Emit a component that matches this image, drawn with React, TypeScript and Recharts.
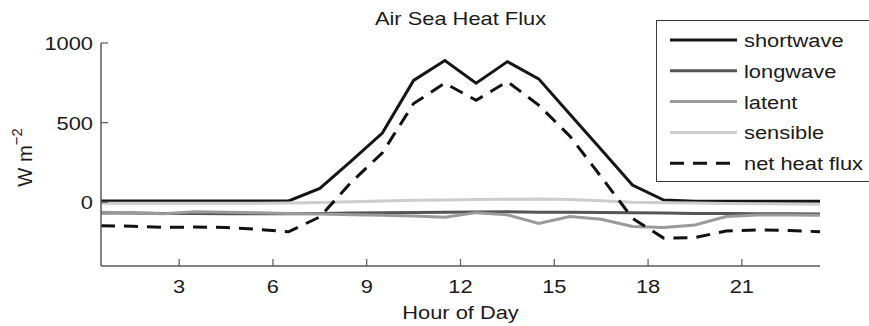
import { Label, Legend, Line, LineChart, XAxis, YAxis } from "recharts";

const hours = [
  0.5, 1.5, 2.5, 3.5, 4.5, 5.5, 6.5, 7.5, 8.5, 9.5, 10.5, 11.5, 12.5, 13.5, 14.5, 15.5, 16.5, 17.5,
  18.5, 19.5, 20.5, 21.5, 22.5, 23.5,
];
const shortwave = [8, 8, 8, 8, 8, 8, 8, 87, 258, 435, 765, 890, 748, 883, 775, 553, 331, 108, 14, 6, 6, 6, 6, 6];
const longwave = [-68, -68, -70, -70, -72, -72, -72, -70, -68, -66, -64, -62, -61, -60, -62, -63, -64, -66, -68, -70, -71, -72, -72, -73];
const latent = [-62, -66, -72, -60, -62, -66, -70, -74, -78, -82, -86, -94, -65, -79, -133, -89, -106, -152, -158, -142, -89, -80, -80, -82];
const sensible = [-6, -6, -6, -6, -6, -6, -5, -2, 3, 8, 12, 15, 18, 19, 21, 18, 10, 0, -3, -5, -7, -9, -10, -12];
const netFlux = [-148, -150, -158, -155, -158, -170, -185, -92, 125, 310, 620, 748, 640, 758, 610, 415, 160, -100, -225, -222, -180, -174, -177, -185];

const xTicks = [3, 6, 9, 12, 15, 18, 21];
const yTicks = [0, 500, 1000];

const series = [
  { key: "shortwave", name: "shortwave", color: "#151515", dash: undefined },
  { key: "longwave", name: "longwave", color: "#555555", dash: undefined },
  { key: "latent", name: "latent", color: "#9a9a9a", dash: undefined },
  { key: "sensible", name: "sensible", color: "#cdcdcd", dash: undefined },
  { key: "net", name: "net heat flux", color: "#111111", dash: "14 9" },
];

const data = hours.map((hour, i) => ({
  hour,
  shortwave: shortwave[i],
  longwave: longwave[i],
  latent: latent[i],
  sensible: sensible[i],
  net: netFlux[i],
}));

const FONT = "'Liberation Sans', Arial, Helvetica, sans-serif";
const AXIS = "#5a5a5a";
const TEXT = "#1a1a1a";
const TICK_LEN = 7;
const STRETCH = 1.15; // the reference type is a bit wider than Liberation Sans

function Txt({ x, y, anchor = "start", size = 19, children }: any) {
  return (
    <text
      transform={`translate(${x},${y}) scale(${STRETCH},1)`}
      textAnchor={anchor}
      fill={TEXT}
      fontSize={size}
      fontFamily={FONT}
    >
      {children}
    </text>
  );
}

function BottomTick({ x, y, payload }: any) {
  return (
    <g>
      <line x1={x} x2={x} y1={y} y2={y - TICK_LEN} stroke={AXIS} strokeWidth={1.2} />
      <Txt x={x} y={y + 27} anchor="middle">
        {payload.value}
      </Txt>
    </g>
  );
}

function TopTick({ x, y }: any) {
  return <line x1={x} x2={x} y1={y} y2={y + TICK_LEN} stroke={AXIS} strokeWidth={1.2} />;
}

function LeftTick({ x, y, payload }: any) {
  return (
    <g>
      <line x1={x} x2={x + TICK_LEN} y1={y} y2={y} stroke={AXIS} strokeWidth={1.2} />
      <Txt x={x - 8} y={y + 7} anchor="end">
        {payload.value}
      </Txt>
    </g>
  );
}

function RightTick({ x, y }: any) {
  return <line x1={x} x2={x - TICK_LEN} y1={y} y2={y} stroke={AXIS} strokeWidth={1.2} />;
}

function XTitle({ viewBox }: any) {
  return (
    <Txt x={viewBox.x + viewBox.width / 2} y={viewBox.y + 53} anchor="middle">
      Hour of Day
    </Txt>
  );
}

function YUnitLabel({ viewBox }: any) {
  const cx = 32;
  const cy = viewBox.y + viewBox.height / 2 + 3;
  return (
    <text
      transform={`translate(${cx},${cy}) rotate(-90) scale(1.06,1.1)`}
      textAnchor="middle"
      fill={TEXT}
      fontSize={19}
      fontFamily={FONT}
    >
      W m
      <tspan dy={-9} fontSize={14}>
        −2
      </tspan>
    </text>
  );
}

function LegendBox() {
  const rowH = 30.8;
  return (
    <div style={{ width: 230, height: 162, border: `1px solid #3a3a3a`, background: "#fff", boxSizing: "border-box" }}>
      <svg width={230} height={160} style={{ display: "block" }}>
        {series.map((s, i) => {
          const cy = 19 + i * rowH;
          return (
            <g key={s.key}>
              <line x1={13} x2={80} y1={cy} y2={cy} stroke={s.color} strokeWidth={3} strokeDasharray={s.dash} />
              <Txt x={87} y={cy + 7}>
                {s.name}
              </Txt>
            </g>
          );
        })}
      </svg>
    </div>
  );
}

export default function App() {
  return (
    <div style={{ position: "absolute", left: 0, top: 0, width: 869, height: 326, background: "#fff", overflow: "hidden" }}>
      <div
        style={{
          position: "absolute",
          left: 101,
          width: 719,
          top: 8,
          textAlign: "center",
          fontFamily: FONT,
          fontSize: 19,
          color: TEXT,
          transform: `scaleX(${STRETCH})`,
        }}
      >
        Air Sea Heat Flux
      </div>
      <LineChart width={869} height={326} data={data} margin={{ top: 43, right: 49, left: 41, bottom: 0 }}>
        <XAxis
          dataKey="hour"
          type="number"
          domain={[0.5, 23.5]}
          ticks={xTicks}
          height={60}
          tickSize={0}
          tickMargin={0}
          tickLine={false}
          tick={<BottomTick />}
          axisLine={{ stroke: AXIS, strokeWidth: 1.5 }}
          allowDataOverflow
        >
          <Label content={<XTitle />} />
        </XAxis>
        <XAxis
          xAxisId="top"
          orientation="top"
          dataKey="hour"
          type="number"
          domain={[0.5, 23.5]}
          ticks={xTicks}
          height={0}
          tickSize={0}
          tickMargin={0}
          tickLine={false}
          tick={<TopTick />}
          axisLine={{ stroke: AXIS, strokeWidth: 1.5 }}
          allowDataOverflow
        />
        <YAxis
          type="number"
          domain={[-400, 1000]}
          ticks={yTicks}
          width={60}
          tickSize={0}
          tickMargin={0}
          tickLine={false}
          tick={<LeftTick />}
          axisLine={{ stroke: AXIS, strokeWidth: 1.5 }}
          allowDataOverflow
        >
          <Label content={<YUnitLabel />} />
        </YAxis>
        <YAxis
          yAxisId="right"
          orientation="right"
          type="number"
          domain={[-400, 1000]}
          ticks={yTicks}
          width={0}
          tickSize={0}
          tickMargin={0}
          tickLine={false}
          tick={<RightTick />}
          axisLine={{ stroke: AXIS, strokeWidth: 1.5 }}
          allowDataOverflow
        />
        {series.map((s) => (
          <Line
            key={s.key}
            dataKey={s.key}
            name={s.name}
            type="linear"
            stroke={s.color}
            strokeWidth={3}
            strokeDasharray={s.dash}
            dot={false}
            activeDot={false}
            isAnimationActive={false}
          />
        ))}
        <Legend
          layout="vertical"
          align="center"
          verticalAlign="middle"
          wrapperStyle={{ left: 656, top: 20, width: 230 }}
          content={<LegendBox />}
        />
      </LineChart>
    </div>
  );
}
